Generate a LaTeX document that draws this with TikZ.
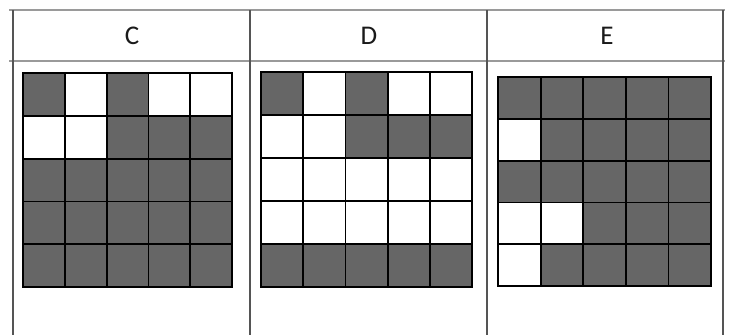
\documentclass[tikz,border=0pt]{standalone}
\usepackage{fontspec}
\setmainfont{Carlito}
\definecolor{cellfill}{HTML}{666666}
\definecolor{hrule}{HTML}{9A9A9A}
\definecolor{vrule}{HTML}{555555}
\definecolor{headtext}{HTML}{1A1A1A}
\newcommand\drawcellgrid[5]{%
  \foreach \rowpat [count=\r from 0] in {#5} {
    \foreach \c [count=\k from 0] in \rowpat {
      \ifnum\c=1 \fill[cellfill] ({#1+\k*#3},{#2+\r*#4}) rectangle ++(#3,#4);\fi
    }
  }
  \foreach \i in {0,...,5} {
    \draw[gridline] ({#1+\i*#3},#2) -- ++(0,{5*#4});
    \draw[gridline] (#1,{#2+\i*#4}) -- ++({5*#3},0);
  }
  \draw[gridborder] (#1,#2) rectangle ++({5*#3},{5*#4});
}
\begin{document}
\begin{tikzpicture}[x=1pt,y=-1pt,
  gridline/.style={draw=black,line width=1.8pt},
  gridborder/.style={draw=black,line width=2.2pt},
  tablehrule/.style={draw=hrule,line width=2pt},
  tablevrule/.style={draw=vrule,line width=1.5pt},
  headlabel/.style={text=headtext,font=\fontsize{27}{32}\selectfont,inner sep=0pt}]
\useasboundingbox (0,0) rectangle (730,335);
\fill[white] (0,0) rectangle (730,335);
% table rules
\draw[tablehrule] (9,10) -- (725,10);
\draw[tablehrule] (9,61) -- (725,61);
\foreach \xx in {13,250,487,723} {
  \draw[tablevrule] (\xx,10) -- (\xx,335);
}
% headers
\node[headlabel] (hC) at (132,36) {C};
\node[headlabel] (hD) at (369,36) {D};
\node[headlabel] (hE) at (607,36) {E};
% grid C
\drawcellgrid{23}{73}{41.8}{42.8}{{1,0,1,0,0},{0,0,1,1,1},{1,1,1,1,1},{1,1,1,1,1},{1,1,1,1,1}}
% grid D
\drawcellgrid{261}{72}{42.2}{43}{{1,0,1,0,0},{0,0,1,1,1},{0,0,0,0,0},{0,0,0,0,0},{1,1,1,1,1}}
% grid E
\drawcellgrid{498}{77}{42.6}{41.8}{{1,1,1,1,1},{0,1,1,1,1},{1,1,1,1,1},{0,0,1,1,1},{0,1,1,1,1}}
\end{tikzpicture}
\end{document}
